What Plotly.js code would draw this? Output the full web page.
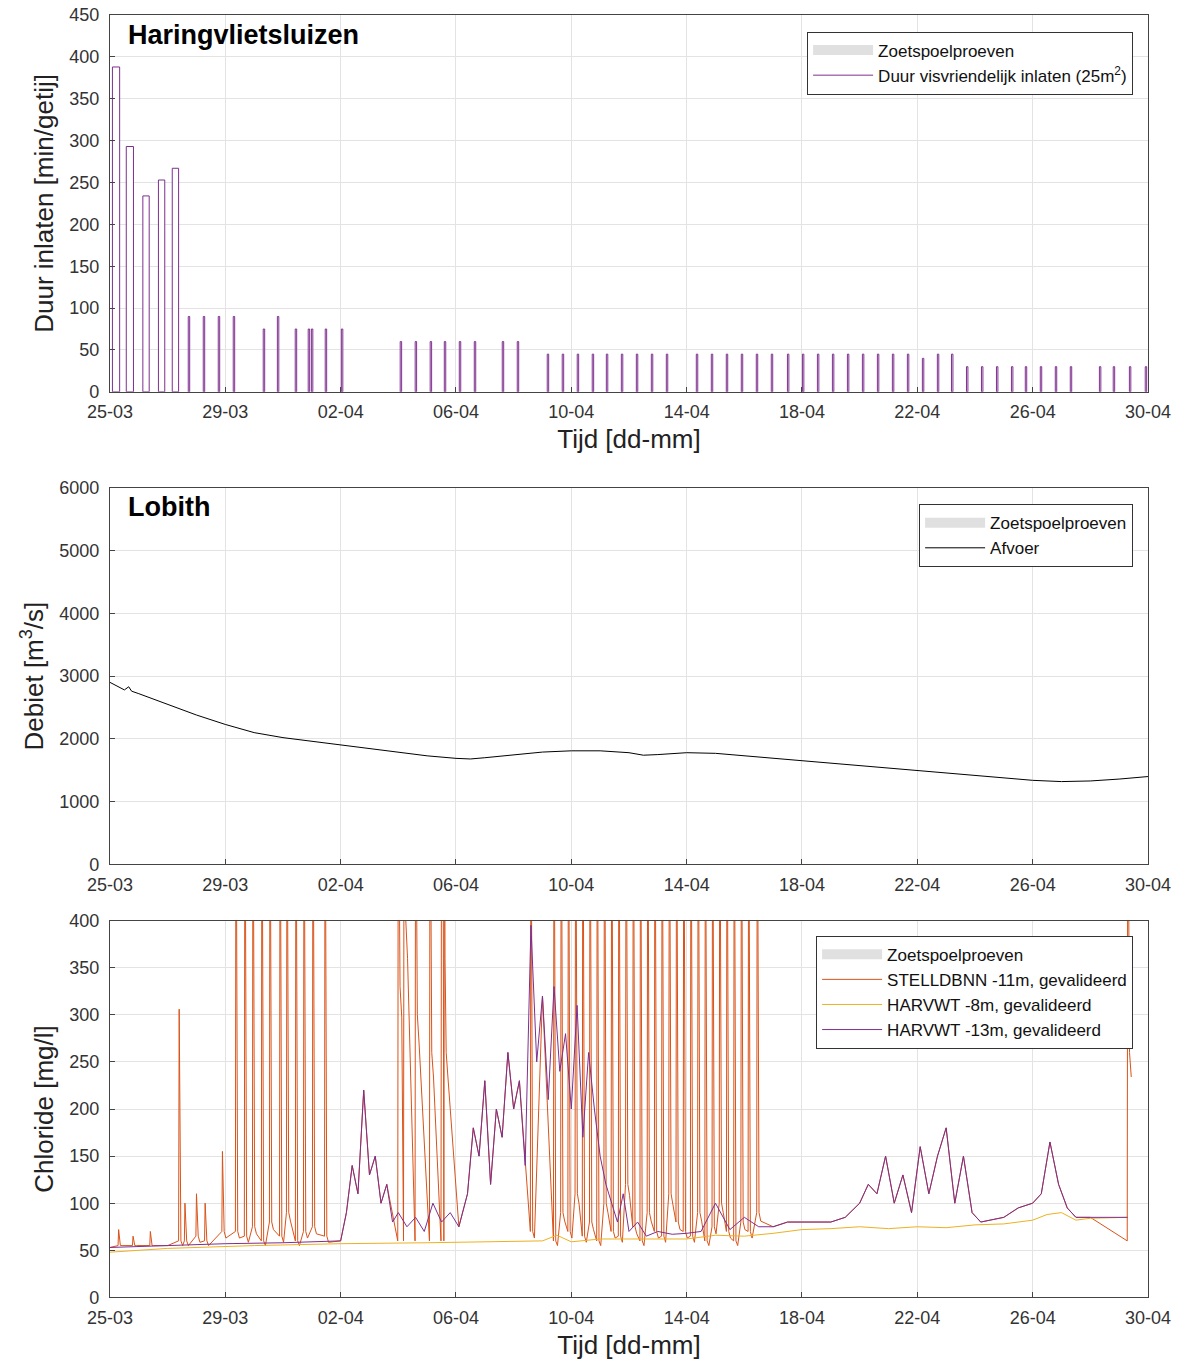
<!DOCTYPE html>
<html><head><meta charset="utf-8">
<script src="https://cdn.plot.ly/plotly-3.0.1.min.js"></script>
<style>body{margin:0}#container{width:1189px;height:1370px}</style>
</head><body><div id="container"></div>
<script>
// x in days since 25-03
var tickDays = [0,4,8,12,16,20,24,28,32,36];
var tickLabels = ['25-03','29-03','02-04','06-04','10-04','14-04','18-04','22-04','26-04','30-04'];

// Haringvlietsluizen: duur visvriendelijk inlaten
var inlaatDag = [0.21,0.69,1.25,1.79,2.27,
  2.74,3.26,3.78,4.30,5.34,5.83,6.45,6.90,7.01,7.49,8.05,
  10.09,10.61,11.13,11.62,12.14,12.66,13.63,14.15,
  15.19,15.71,16.23,16.75,17.24,17.76,18.28,18.80,19.32,
  20.36,20.88,21.40,21.92,22.44,22.96,23.52,24.04,24.56,25.08,25.60,26.12,26.64,27.16,27.68,28.20,28.72,29.21,
  29.73,30.25,30.77,31.29,31.77,32.29,32.81,33.33,34.34,34.82,35.38,35.93];
var inlaatDuur = [388,293,234,253,267,
  90,90,90,90,75,90,75,75,75,75,75,
  60,60,60,60,60,60,60,60,
  45,45,45,45,45,45,45,45,45,
  45,45,45,45,45,45,45,45,45,45,45,45,45,45,45,40,45,45,
  30,30,30,30,30,30,30,30,30,30,30,30];
var inlaatBreedte = [0.25,0.25,0.22,0.22,0.22];

// Lobith afvoer
var afvoerDag = [0,0.5,0.65,0.75,1,2,3,4,5,6,7,8,9,10,11,12,12.5,13,14,15,16,17,18,18.5,19,20,21,22,23,24,25,26,27,28,29,30,31,32,33,34,35,36];
var afvoer = [2900,2780,2830,2760,2720,2550,2380,2230,2100,2020,1960,1900,1850,1790,1730,1690,1680,1700,1750,1790,1810,1810,1780,1740,1750,1780,1770,1730,1690,1650,1620,1580,1530,1500,1460,1410,1370,1340,1320,1330,1360,1400];

// HARVWT -8m
var harv8Dag = [0,2,5,8,11,14,15,15.5,16,17,20,21,22,23,24,25,26,27,28,29,30,31,32,32.5,33,33.5,34,35.3];
var harv8 = [48,52,55,57,58,59,60,66,59,62,62,66,65,68,72,73,75,73,75,74,77,78,82,88,90,82,84,85];

// HARVWT -13m
var harv13Dag = [0,2,4,6,8,8.2,8.4,8.6,8.8,9.0,9.2,9.4,9.6,9.8,10,10.3,10.6,10.9,11.2,11.5,11.8,12.1,12.4,12.6,12.8,13.0,13.2,13.4,13.6,13.8,14.0,14.2,14.4,14.6,14.8,15.0,15.2,15.4,15.6,15.8,16.0,16.2,16.4,16.6,16.8,17.0,17.2,17.4,17.6,17.8,18.0,18.3,18.6,19,19.5,20,20.5,21,21.5,22,22.5,23,23.5,24,25,25.5,26,26.3,26.6,26.9,27.2,27.5,27.8,28.1,28.4,28.7,29.0,29.3,29.6,29.9,30.2,31,31.5,32,32.3,32.6,32.9,33.2,33.5,34,35.3];
var harv13 = [53,55,57,58,60,90,140,110,220,130,150,100,120,80,90,75,85,70,100,80,90,75,110,180,150,230,120,200,170,260,200,230,140,395,250,320,210,330,240,280,200,310,170,260,200,150,120,100,80,110,70,80,65,70,67,68,70,100,72,85,75,75,80,80,80,85,100,120,110,150,100,130,90,160,110,150,180,100,150,90,80,85,95,100,110,165,120,95,85,85,85];

// STELLDBNN -11m: pieken (tussen pieken volgt het signaal HARVWT -13m)
var stelPiekDag = [0.3,0.8,1.4,2.4,2.6,3.0,3.3,3.9,
  4.37,4.68,4.96,5.27,5.55,5.9,6.14,6.45,6.73,7.04,7.46,
  10.0,10.2,10.6,11.1,11.5,11.6,
  14.6,15.4,15.65,15.9,16.15,16.4,16.65,16.9,17.15,17.4,17.65,17.9,18.15,18.4,18.65,18.9,19.15,19.4,19.65,19.9,20.15,20.4,20.65,20.9,21.15,21.4,21.65,21.9,22.15,22.45,35.3];
var stelPiek = [72,65,70,306,100,110,100,155,
  600,600,600,600,600,600,600,600,600,600,600,
  600,600,600,600,600,600,
  600,600,600,600,600,600,600,600,600,600,600,600,600,600,600,600,600,600,600,600,600,600,600,600,600,600,600,600,600,600,600];
var stelDal = [55,55,55,60,60,65,60,70,
  70,65,75,60,80,65,90,60,70,75,65,
  330,400,300,260,400,260,
  70,60,90,70,110,65,80,60,100,70,65,120,75,60,90,70,65,110,80,70,65,90,60,75,100,70,60,80,70,90,260];

function stelSerie() {
  var pts = [];
  for (var i = 0; i < stelPiekDag.length; i++) {
    var d = stelPiekDag[i];
    pts.push([d - 0.02, stelDal[i] < 200 ? stelDal[i] : 60]);
    pts.push([d, stelPiek[i]]);
    pts.push([d + 0.06, stelDal[i]]);
    pts.push([d + 0.12, Math.max(stelDal[i] * 0.9, 55)]);
  }
  harv13Dag.forEach(function(d, j) {
    var near = stelPiekDag.some(function(p) { return Math.abs(p - d) < 0.3; });
    if (!near) pts.push([d, harv13[j]]);
  });
  pts.sort(function(a, b) { return a[0] - b[0]; });
  return {x: pts.map(function(p) { return p[0]; }), y: pts.map(function(p) { return p[1]; })};
}
var stel = stelSerie();

var purple = '#7E2F8E', orange = '#D95319', yellow = '#EDB120';
var gridc = '#e3e3e3';
var fam = 'Arial, "Liberation Sans", sans-serif';
function legendPatch(lg, xa, ya) {
  return {x: [null], y: [null], type: 'scatter', mode: 'lines', name: 'Zoetspoelproeven', xaxis: xa, yaxis: ya,
    line: {color: '#e0e0e0', width: 16}, legend: lg, showlegend: true};
}

var data = [
  legendPatch('legend', 'x', 'y'),
  {x: inlaatDag, y: inlaatDuur, type: 'bar', name: 'Duur visvriendelijk inlaten (25m<sup>2</sup>)',
   width: inlaatDag.map(function(d, i) { return inlaatBreedte[i] || 0.05; }),
   marker: {color: 'white', line: {color: purple, width: 1}}, xaxis: 'x', yaxis: 'y', legend: 'legend', showlegend: false},
  {x: [null], y: [null], type: 'scatter', mode: 'lines', name: 'Duur visvriendelijk inlaten (25m<sup>2</sup>)',
   line: {color: purple, width: 1}, xaxis: 'x', yaxis: 'y', legend: 'legend'},
  legendPatch('legend2', 'x2', 'y2'),
  {x: afvoerDag, y: afvoer, type: 'scatter', mode: 'lines', name: 'Afvoer', line: {color: 'black', width: 1},
   xaxis: 'x2', yaxis: 'y2', legend: 'legend2'},
  legendPatch('legend3', 'x3', 'y3'),
  {x: stel.x, y: stel.y, type: 'scatter', mode: 'lines', name: 'STELLDBNN -11m, gevalideerd', line: {color: orange, width: 1},
   xaxis: 'x3', yaxis: 'y3', legend: 'legend3'},
  {x: harv8Dag, y: harv8, type: 'scatter', mode: 'lines', name: 'HARVWT -8m, gevalideerd', line: {color: yellow, width: 1},
   xaxis: 'x3', yaxis: 'y3', legend: 'legend3'},
  {x: harv13Dag, y: harv13, type: 'scatter', mode: 'lines', name: 'HARVWT -13m, gevalideerd', line: {color: purple, width: 1},
   xaxis: 'x3', yaxis: 'y3', legend: 'legend3'}
];

function xax(title) {
  var a = {domain: [0.0925, 0.9655], range: [0, 36], tickvals: tickDays, ticktext: tickLabels,
    showgrid: true, gridcolor: gridc, showline: true, mirror: true, linecolor: '#444', ticks: 'inside',
    ticklabelstandoff: 4, tickfont: {size: 18, color: '#333'}, zeroline: false};
  if (title) a.title = {text: 'Tijd [dd-mm]', font: {size: 26, color: '#222'}, standoff: 8};
  return a;
}
function yax(dom, range, dt, title, anchor) {
  return {domain: dom, range: range, dtick: dt, anchor: anchor, showgrid: true, gridcolor: gridc,
    showline: true, mirror: true, linecolor: '#444', ticks: 'inside', zeroline: false, ticklabelstandoff: 6,
    tickfont: {size: 18, color: '#333'}, title: {text: title, font: {size: 26, color: '#222'}, standoff: 8}};
}
function leg(y) {
  return {x: 0.953, y: y, xanchor: 'right', yanchor: 'top', bordercolor: '#333', borderwidth: 1,
    bgcolor: 'white', font: {size: 17, color: '#111', family: fam}, tracegroupgap: 0, itemwidth: 60};
}

var layout = {
  width: 1189, height: 1370, margin: {l: 0, r: 0, t: 0, b: 0},
  font: {family: fam}, plot_bgcolor: 'white', paper_bgcolor: 'white',
  barmode: 'overlay',
  xaxis: Object.assign(xax(true), {anchor: 'y'}),
  yaxis: yax([0.714, 0.989], [0, 450], 50, 'Duur inlaten [min/getij]', 'x'),
  xaxis2: Object.assign(xax(false), {anchor: 'y2'}),
  yaxis2: yax([0.369, 0.644], [0, 6000], 1000, 'Debiet [m<sup>3</sup>/s]', 'x2'),
  xaxis3: Object.assign(xax(true), {anchor: 'y3'}),
  yaxis3: yax([0.053, 0.328], [0, 400], 50, 'Chloride [mg/l]', 'x3'),
  legend: leg(0.977), legend2: leg(0.632), legend3: leg(0.317),
  annotations: [
    {text: '<b>Haringvlietsluizen</b>', xref: 'paper', yref: 'paper', x: 0.106, y: 0.987, xanchor: 'left', yanchor: 'top', showarrow: false, font: {size: 27, color: '#000'}},
    {text: '<b>Lobith</b>', xref: 'paper', yref: 'paper', x: 0.106, y: 0.642, xanchor: 'left', yanchor: 'top', showarrow: false, font: {size: 27, color: '#000'}}
  ]
};
Plotly.newPlot('container', data, layout, {displayModeBar: false});
</script></body></html>
